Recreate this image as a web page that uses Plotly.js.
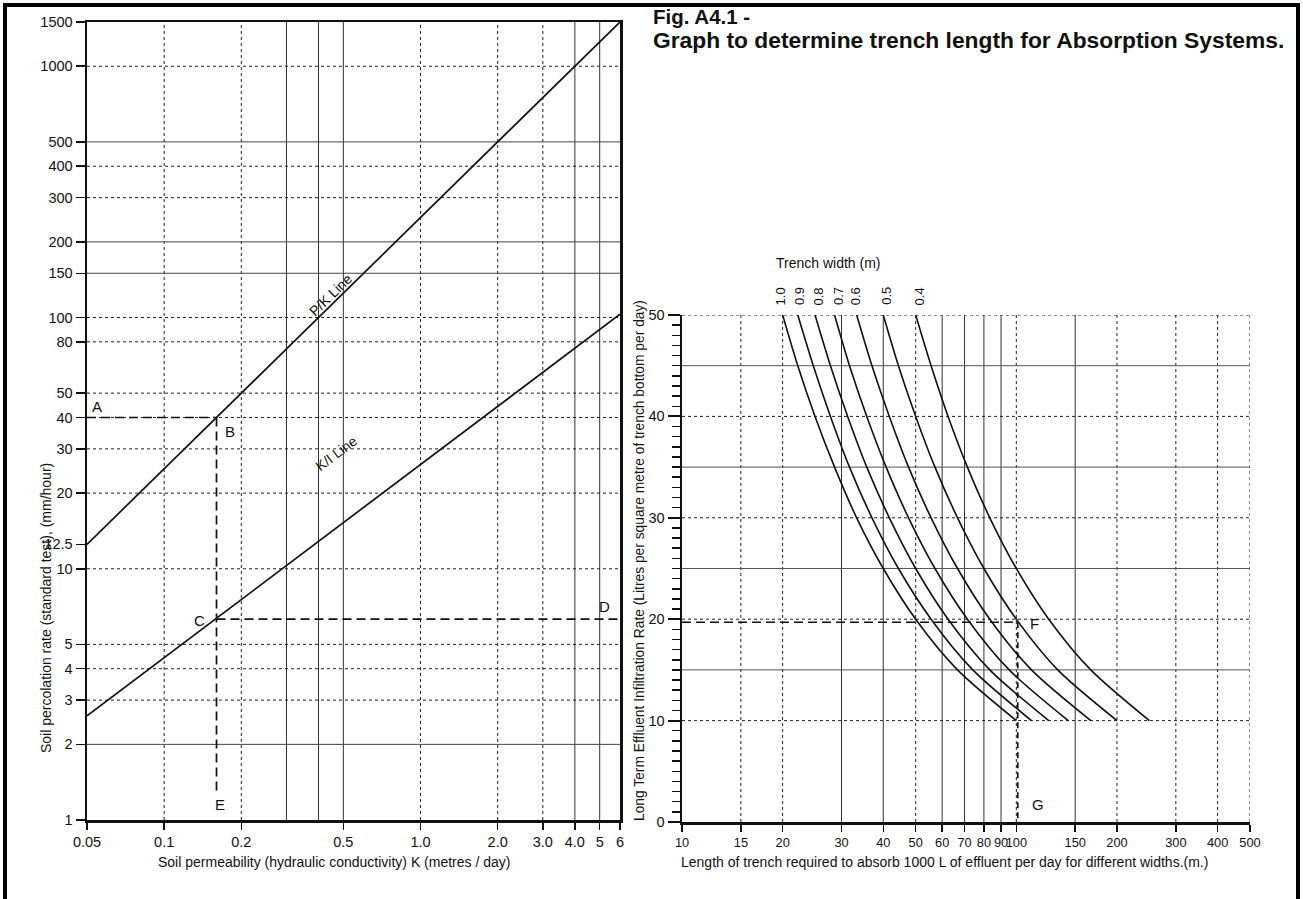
<!DOCTYPE html>
<html>
<head>
<meta charset="utf-8">
<script src="https://cdn.plot.ly/plotly-3.0.1.min.js"></script>
<style>
  html, body { margin: 0; padding: 0; background: #fff; }
  #chart { width: 1303px; height: 899px; }
</style>
</head>
<body>
<div id="chart"></div>
<script>
// ---------------- Left chart data ----------------
const pkK = [0.05, 6];                 // P/K line, permeability K (m/day)
const pkP = [12.5, 1500];              // percolation rate (mm/hour)
const kiK = [0.05, 0.1, 0.16, 0.3, 1.0, 2.0, 6];
const kiI = [2.6, 4.43, 6.36, 10.3, 26, 44.3, 103];

const exABx = [0.05, 0.16], exABy = [40, 40];
const exBEx = [0.16, 0.16], exBEy = [40, 1.28];
const exCDx = [0.16, 6],    exCDy = [6.3, 6.3];

const leftXTickVals = [0.05, 0.1, 0.2, 0.5, 1, 2, 3, 4, 5, 6];
const leftXTickText = ['0.05', '0.1', '0.2', '0.5', '1.0', '2.0', '3.0', '4.0', '5', '6'];
const leftYTickVals = [1, 2, 3, 4, 5, 10, 12.5, 20, 30, 40, 50, 80, 100, 150, 200, 300, 400, 500, 1000, 1500];
const leftYTickText = ['1', '2', '3', '4', '5', '10', '12.5', '20', '30', '40', '50', '80', '100', '150', '200', '300', '400', '500', '1000', '1500'];

const leftXGridDotted = [0.1, 0.2, 1, 2, 3];
const leftXGridSolid = [0.3, 0.4, 0.5, 4, 5];
const leftYGridDotted = [3, 4, 5, 10, 20, 30, 40, 50, 80, 100, 300, 400, 1000];
const leftYGridSolid = [2, 150, 200, 500];

// point labels, left chart
const leftLabelText = ['A', 'B', 'C', 'D', 'E'];
const leftLabelK = [0.0547, 0.181, 0.137, 5.2, 0.165];
const leftLabelP = [44.3, 35.3, 6.2, 7.07, 1.15];

// ---------------- Right chart data ----------------
const rate = [50, 45, 40, 35, 30, 25, 20, 15, 10];   // L per m2 per day
const widths = ['1.0', '0.9', '0.8', '0.7', '0.6', '0.5', '0.4'];
const len_10 = [20, 22.2, 25, 28.6, 33.3, 40, 50, 66.7, 100];
const len_09 = [22.2, 24.7, 27.8, 31.7, 37, 44.4, 55.6, 74.1, 111];
const len_08 = [25, 27.8, 31.3, 35.7, 41.7, 50, 62.5, 83.3, 125];
const len_07 = [28.6, 31.7, 35.7, 40.8, 47.6, 57.1, 71.4, 95.2, 143];
const len_06 = [33.3, 37, 41.7, 47.6, 55.6, 66.7, 83.3, 111, 167];
const len_05 = [40, 44.4, 50, 57.1, 66.7, 80, 100, 133, 200];
const len_04 = [50, 55.6, 62.5, 71.4, 83.3, 100, 125, 167, 250];
const lengths = [len_10, len_09, len_08, len_07, len_06, len_05, len_04];
const widthLabelL = [19.7, 22.4, 25.6, 29.3, 33.0, 40.7, 51.3];

const exFx = [10, 101], exFy = [19.7, 19.7];
const exGx = [101, 101], exGy = [19.7, 0];

const rightXTickVals = [10, 15, 20, 30, 40, 50, 60, 70, 80, 90, 100, 150, 200, 300, 400, 500];
const rightXTickText = ['10', '15', '20', '30', '40', '50', '60', '70', '80', '90', '100', '150', '200', '300', '400', '500'];
const rightXGridDotted = [15, 20, 50, 100, 200, 300, 400, 500];
const rightXGridSolid = [30, 40, 60, 70, 80, 90, 150];
const rightYGridDotted = [10, 20, 30, 40, 50];
const rightYGridSolid = [15, 25, 35, 45];

const rightLabelText = ['F', 'G'];
const rightLabelL = [113, 116];
const rightLabelR = [19.6, 1.7];

// ---------------- Build ----------------
const W = 1303, H = 899;
const px = v => v / W;
const py = v => (H - v) / H;
const FONT = '"Liberation Sans", Arial, Helvetica, sans-serif';
const lg = Math.log10;

const traces = [];
const line = (x, y, xa, ya, opts) => Object.assign({
  type: 'scatter', mode: 'lines', x: x, y: y, xaxis: xa, yaxis: ya,
  hoverinfo: 'skip', showlegend: false,
  line: { color: '#111', width: 1.7 }
}, opts || {});
const DASH = { color: '#111', width: 1.7, dash: '9px,5px' };

traces.push(line(pkK, pkP, 'x', 'y'));
traces.push(line(kiK, kiI, 'x', 'y'));
traces.push(line(exABx, exABy, 'x', 'y', { line: DASH }));
traces.push(line(exBEx, exBEy, 'x', 'y', { line: DASH }));
traces.push(line(exCDx, exCDy, 'x', 'y', { line: DASH }));

lengths.forEach(function (L) {
  traces.push(line(L, rate, 'x2', 'y2', { line: { color: '#111', width: 1.6, shape: 'spline', smoothing: 0.8 } }));
});
traces.push(line(exFx, exFy, 'x2', 'y2', { line: DASH }));
traces.push(line(exGx, exGy, 'x2', 'y2', { line: { color: '#111', width: 1.7, dash: '6px,4px' } }));

const shapes = [];
function vGrid(vals, xr, yr, dash, color) {
  vals.forEach(v => shapes.push({ type: 'line', layer: 'below', xref: xr, yref: yr + ' domain',
    x0: v, x1: v, y0: 0, y1: 1, line: { color: color, width: 1, dash: dash } }));
}
function hGrid(vals, xr, yr, dash, color) {
  vals.forEach(v => shapes.push({ type: 'line', layer: 'below', xref: xr + ' domain', yref: yr,
    x0: 0, x1: 1, y0: v, y1: v, line: { color: color, width: 1, dash: dash } }));
}
vGrid(leftXGridDotted, 'x', 'y', 'dot', '#222');
vGrid(leftXGridSolid, 'x', 'y', 'solid', '#333');
hGrid(leftYGridDotted, 'x', 'y', 'dot', '#222');
hGrid(leftYGridSolid, 'x', 'y', 'solid', '#444');
vGrid(rightXGridDotted, 'x2', 'y2', 'dot', '#222');
vGrid(rightXGridSolid, 'x2', 'y2', 'solid', '#333');
hGrid(rightYGridDotted, 'x2', 'y2', 'dot', '#222');
hGrid(rightYGridSolid, 'x2', 'y2', 'solid', '#555');

// page frame
shapes.push({ type: 'line', xref: 'paper', yref: 'paper', x0: px(5), x1: px(5), y0: 0, y1: py(4), line: { color: '#000', width: 4 } });
shapes.push({ type: 'line', xref: 'paper', yref: 'paper', x0: px(3), x1: px(1300), y0: py(5), y1: py(5), line: { color: '#000', width: 4 } });
shapes.push({ type: 'line', xref: 'paper', yref: 'paper', x0: px(1298), x1: px(1298), y0: 0, y1: py(4), line: { color: '#000', width: 4 } });

const annotations = [];
const txt = (o) => Object.assign({ showarrow: false, xanchor: 'center', yanchor: 'middle',
  font: { family: FONT, size: 12, color: '#111' } }, o);
const f = (s) => ({ family: FONT, size: s, color: '#111' });

annotations.push(txt({ xref: 'paper', yref: 'paper', x: px(651), y: py(16), xanchor: 'left', yanchor: 'middle',
  text: '<b>Fig. A4.1 -</b>', font: f(20.5) }));
annotations.push(txt({ xref: 'paper', yref: 'paper', x: px(651), y: py(40), xanchor: 'left', yanchor: 'middle',
  text: '<b>Graph to determine trench length for Absorption Systems.</b>', font: f(22.8) }));

annotations.push(txt({ xref: 'paper', yref: 'paper', x: px(46), y: py(608), textangle: -90,
  text: 'Soil percolation rate (standard test), (mm/hour)', font: f(14) }));
annotations.push(txt({ xref: 'paper', yref: 'paper', x: px(334), y: py(862),
  text: 'Soil permeability (hydraulic conductivity) K (metres / day)', font: f(14) }));
annotations.push(txt({ xref: 'paper', yref: 'paper', x: px(639), y: py(561), textangle: -90,
  text: 'Long Term Effluent Infiltration Rate (Litres per square metre of trench bottom per day)', font: f(13.8) }));
annotations.push(txt({ xref: 'paper', yref: 'paper', x: px(944), y: py(862),
  text: 'Length of trench required to absorb 1000 L of effluent per day for different widths.(m.)', font: f(14) }));
annotations.push(txt({ xref: 'paper', yref: 'paper', x: px(828), y: py(263),
  text: 'Trench width (m)', font: f(14) }));

annotations.push(txt({ xref: 'x', yref: 'y', x: lg(0.445), y: lg(123), textangle: -44, text: 'P/K Line', font: f(14) }));
annotations.push(txt({ xref: 'x', yref: 'y', x: lg(0.47), y: lg(29), textangle: -37, text: 'K/I Line', font: f(14) }));

leftLabelText.forEach((t, i) => annotations.push(txt({ xref: 'x', yref: 'y', x: lg(leftLabelK[i]), y: lg(leftLabelP[i]),
  text: t, font: f(15) })));
rightLabelText.forEach((t, i) => annotations.push(txt({ xref: 'x2', yref: 'y2', x: lg(rightLabelL[i]), y: rightLabelR[i],
  text: t, font: f(15) })));

widths.forEach((w, i) => annotations.push(txt({ xref: 'x2', yref: 'paper', x: lg(widthLabelL[i]), y: py(307),
  yanchor: 'bottom', textangle: -90, text: w, font: f(13) })));

const tickFont = f(14.5);
const layout = {
  width: W, height: H,
  margin: { l: 0, r: 0, t: 0, b: 0 },
  paper_bgcolor: '#fff', plot_bgcolor: 'rgba(0,0,0,0)',
  showlegend: false,
  font: { family: FONT, color: '#111' },
  xaxis: {
    type: 'log', domain: [px(87), px(620)], range: [lg(0.05), lg(6)], anchor: 'y',
    tickmode: 'array', tickvals: leftXTickVals, ticktext: leftXTickText, tickangle: 0,
    ticks: 'outside', ticklen: 7, tickwidth: 1.5, tickcolor: '#111', tickfont: tickFont,
    showline: true, linecolor: '#111', linewidth: 2.5, mirror: true,
    showgrid: false, zeroline: false, fixedrange: true
  },
  yaxis: {
    type: 'log', domain: [py(820), py(22)], range: [0, lg(1500)], anchor: 'x',
    tickmode: 'array', tickvals: leftYTickVals, ticktext: leftYTickText,
    ticks: 'outside', ticklen: 9, tickwidth: 1.5, tickcolor: '#111', tickfont: tickFont,
    showline: true, linecolor: '#111', linewidth: 2.5, mirror: true,
    showgrid: false, zeroline: false, fixedrange: true
  },
  xaxis2: {
    type: 'log', domain: [px(682), px(1250)], range: [1, lg(500)], anchor: 'y2',
    tickmode: 'array', tickvals: rightXTickVals, ticktext: rightXTickText, tickangle: 0,
    ticks: 'outside', ticklen: 7, tickwidth: 1.5, tickcolor: '#111', tickfont: f(12.8),
    showline: true, linecolor: '#111', linewidth: 2.5,
    showgrid: false, zeroline: false, fixedrange: true
  },
  yaxis2: {
    type: 'linear', domain: [py(822), py(315)], range: [0, 50], anchor: 'x2',
    tickmode: 'linear', tick0: 0, dtick: 10,
    ticks: 'outside', ticklen: 12, tickwidth: 2, tickcolor: '#111', tickfont: tickFont,
    minor: { tickmode: 'linear', tick0: 0, dtick: 1, ticks: 'outside', ticklen: 8, tickwidth: 1.5, tickcolor: '#111', showgrid: false },
    showline: true, linecolor: '#111', linewidth: 2.5,
    showgrid: false, zeroline: false, fixedrange: true
  },
  shapes: shapes,
  annotations: annotations
};

Plotly.newPlot('chart', traces, layout, { displayModeBar: false, staticPlot: true });
</script>
</body>
</html>
